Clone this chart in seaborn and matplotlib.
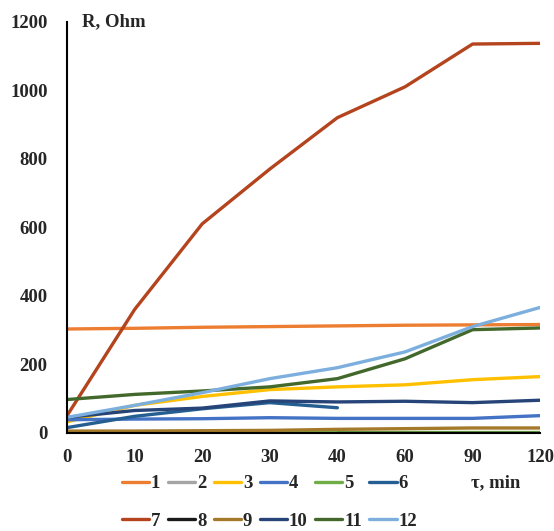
import matplotlib.pyplot as plt
import numpy as np
import pandas as pd
import seaborn as sns

# time points (categorical axis, equally spaced)
times = ["0", "10", "20", "30", "40", "60", "90", "120"]

s1 = [303, 305, 308, 310, 312, 314, 315, 316]
s2 = [2, 2, 2, 2, 2, np.nan, np.nan, np.nan]
s3 = [32, 80, 106, 126, 134, 140, 155, 164]
s4 = [38, 40, 41, 44, 42, 42, 42, 50]
s5 = [3, 3, 3, 3, 3, 3, 3, 3]
s6 = [15, 48, 70, 88, 73, np.nan, np.nan, np.nan]
s7 = [50, 360, 610, 770, 920, 1010, 1135, 1137]
s8 = [np.nan, np.nan, np.nan, np.nan, 0, 0, 0, 0]
s9 = [5, 5, 6, 7, 10, 12, 14, 14]
s10 = [45, 65, 72, 93, 90, 92, 88, 95]
s11 = [97, 112, 122, 134, 158, 216, 301, 306]
s12 = [45, 80, 117, 158, 190, 236, 310, 366]

series = [s1, s2, s3, s4, s5, s6, s7, s8, s9, s10, s11, s12]
names = [str(i) for i in range(1, 13)]
colors = ["#ED7D31", "#A5A5A5", "#FFC000", "#4472C4", "#70AD47", "#255E91",
          "#B4441E", "#1A1A1A", "#A47A2A", "#264478", "#43682B", "#7CAFDD"]

rows = []
for name, vals in zip(names, series):
    for i, v in enumerate(vals):
        rows.append({"pos": i, "R": v, "series": name})
df = pd.DataFrame(rows).dropna()

sns.set_style("white")
plt.rcParams["font.family"] = ["Liberation Serif", "DejaVu Serif"]
plt.rcParams["font.weight"] = "bold"

fig = plt.figure(figsize=(5.54, 5.31), dpi=100)
ax = fig.add_axes([0.121, 0.185, 0.854, 0.774])

sns.lineplot(
    data=df,
    x="pos",
    y="R",
    hue="series",
    hue_order=names,
    palette=dict(zip(names, colors)),
    linewidth=2.4,
    ax=ax,
)

ax.set_xlim(0, len(times) - 1)
ax.set_ylim(0, 1200)
ax.set_xticks(range(len(times)))
ax.set_xticklabels(times)
ax.set_yticks(range(0, 1201, 200))
ax.tick_params(axis="y", length=0, labelsize=13.5, pad=14)
ax.tick_params(axis="x", length=0, labelsize=13.5, pad=12)
for lbl in ax.get_xticklabels() + ax.get_yticklabels():
    lbl.set_fontweight("bold")
ax.set_xlabel("")
ax.set_ylabel("")
for side in ["top", "right"]:
    ax.spines[side].set_visible(False)
for side in ["left", "bottom"]:
    ax.spines[side].set_color("black")
    ax.spines[side].set_linewidth(1.5)

fig.text(0.148, 0.96, "R, Ohm", fontsize=13.5, fontweight="bold", va="center")
fig.text(0.85, 0.09, "τ, min", fontsize=13.5, fontweight="bold", va="center")

# legend filled row by row: 1..6 on top, 7..12 below
handles, labels = ax.get_legend_handles_labels()
order = [j for i in range(6) for j in (i, i + 6)]
ax.legend(
    [handles[k] for k in order], [labels[k] for k in order],
    loc="upper left",
    bbox_to_anchor=(0.08, -0.062),
    ncol=6,
    frameon=False,
    handlelength=1.45,
    handletextpad=0.1,
    columnspacing=0.4,
    labelspacing=1.1,
    prop={"size": 13.5, "weight": "bold"},
)

plt.savefig("out.png", dpi=100)
plt.close()
